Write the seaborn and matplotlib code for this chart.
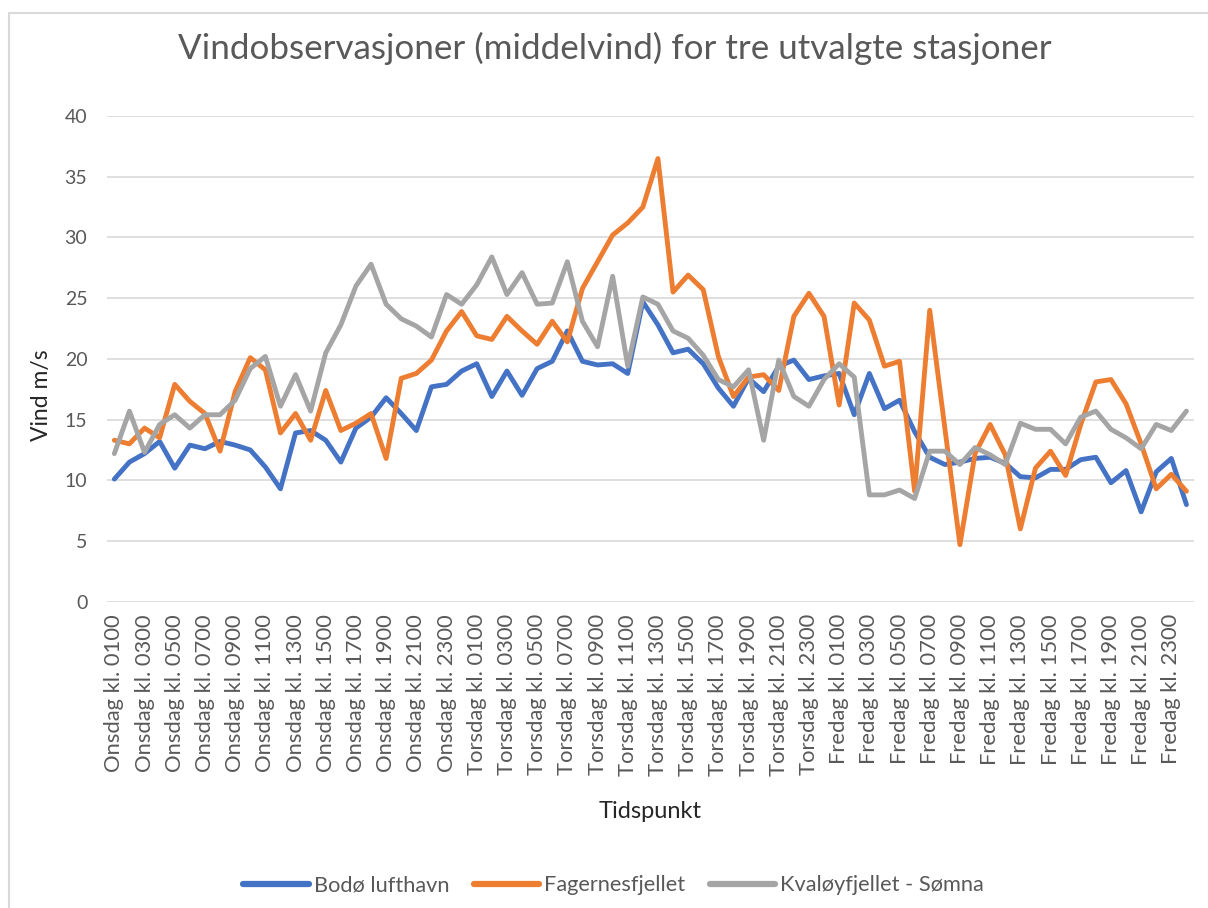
import numpy as np
import pandas as pd
import matplotlib
matplotlib.use("Agg")
import matplotlib.pyplot as plt
from matplotlib.lines import Line2D
import seaborn as sns

# stations and colours (Excel default palette)
stations = ["Bodø lufthavn", "Fagernesfjellet", "Kvaløyfjellet - Sømna"]
colors = ["#4472C4", "#ED7D31", "#A5A5A5"]

days = ["Onsdag", "Torsdag", "Fredag"]
hours = list(range(1, 25))

# middelvind m/s, one value per hour (Onsdag kl. 0100 .. Fredag kl. 2400)
bodo = [10.1, 11.5, 12.2, 13.2, 11.0, 12.9, 12.6, 13.2, 12.9, 12.5, 11.1, 9.3,
        13.9, 14.1, 13.3, 11.5, 14.3, 15.2, 16.8, 15.5, 14.1, 17.7, 17.9, 19.0,
        19.6, 16.9, 19.0, 17.0, 19.2, 19.8, 22.3, 19.8, 19.5, 19.6, 18.8, 24.7,
        22.8, 20.5, 20.8, 19.6, 17.6, 16.1, 18.4, 17.3, 19.4, 19.9, 18.3, 18.6,
        18.8, 15.4, 18.8, 15.9, 16.6, 14.0, 11.9, 11.3, 11.5, 11.8, 11.9, 11.4,
        10.3, 10.2, 10.9, 10.9, 11.7, 11.9, 9.8, 10.8, 7.4, 10.7, 11.8, 8.0]
fagernes = [13.3, 13.0, 14.3, 13.5, 17.9, 16.5, 15.5, 12.4, 17.3, 20.1, 19.1, 13.9,
            15.5, 13.3, 17.4, 14.1, 14.7, 15.5, 11.8, 18.4, 18.8, 19.9, 22.3, 23.9,
            21.9, 21.6, 23.5, 22.3, 21.2, 23.1, 21.4, 25.8, 28.0, 30.2, 31.2, 32.5,
            36.5, 25.5, 26.9, 25.7, 20.2, 16.9, 18.5, 18.7, 17.4, 23.5, 25.4, 23.5,
            16.2, 24.6, 23.2, 19.4, 19.8, 9.1, 24.0, 14.3, 4.7, 12.2, 14.6, 12.1,
            6.0, 11.0, 12.4, 10.4, 14.6, 18.1, 18.3, 16.3, 13.0, 9.3, 10.5, 9.1]
kvaloy = [12.2, 15.7, 12.3, 14.6, 15.4, 14.3, 15.4, 15.4, 16.6, 19.2, 20.2, 16.1,
          18.7, 15.7, 20.5, 22.8, 26.0, 27.8, 24.5, 23.3, 22.7, 21.8, 25.3, 24.5,
          26.1, 28.4, 25.3, 27.1, 24.5, 24.6, 28.0, 23.1, 21.0, 26.8, 19.4, 25.1,
          24.5, 22.3, 21.7, 20.3, 18.3, 17.7, 19.1, 13.3, 19.9, 16.9, 16.1, 18.3,
          19.6, 18.5, 8.8, 8.8, 9.2, 8.5, 12.4, 12.4, 11.3, 12.7, 12.1, 11.3,
          14.7, 14.2, 14.2, 13.0, 15.2, 15.7, 14.2, 13.5, 12.6, 14.6, 14.1, 15.7]

time_labels = [f"{d} kl. {h:02d}00" for d in days for h in hours]

df = pd.DataFrame({"Tidspunkt": time_labels, stations[0]: bodo,
                   stations[1]: fagernes, stations[2]: kvaloy})
df["pos"] = np.arange(len(df))
long = df.melt(id_vars=["Tidspunkt", "pos"], value_vars=stations,
               var_name="Stasjon", value_name="Vind")

sns.set_style("white")
plt.rcParams["font.family"] = ["Lato", "DejaVu Sans"]

fig = plt.figure(figsize=(12.08, 9.08), dpi=100)
ax = fig.add_axes([0.0884, 0.3373, 0.9000, 0.5349])

sns.lineplot(data=long, x="pos", y="Vind", hue="Stasjon", hue_order=stations,
             palette=dict(zip(stations, colors)), linewidth=3.5, ax=ax,
             legend=False)

ax.set_xlim(-0.5, len(df) - 0.5)
ax.set_ylim(0, 40)
ax.set_yticks(range(0, 41, 5))
ax.set_xticks(df["pos"][::2])
ax.set_xticklabels(df["Tidspunkt"][::2], rotation=90, fontsize=15.8, color="#595959")
ax.tick_params(axis="y", labelsize=14, labelcolor="#595959", length=0, pad=14)
ax.tick_params(axis="x", length=0, pad=9)
ax.grid(axis="y", color="#D9D9D9", linewidth=1.2)
ax.grid(axis="x", visible=False)
for s in ax.spines.values():
    s.set_visible(False)

ax.set_xlabel("Tidspunkt", fontsize=17, color="#262626", labelpad=18)
ax.set_ylabel("Vind m/s", fontsize=16.5, color="#262626")
ax.yaxis.set_label_coords(-0.050, 0.426)

fig.text(0.509, 0.947, "Vindobservasjoner (middelvind) for tre utvalgte stasjoner",
         ha="center", va="center", fontsize=25.2, color="#595959")

handles = [Line2D([0], [0], color=c, lw=4.5, solid_capstyle="round") for c in colors]
fig.legend(handles, stations, loc="center", bbox_to_anchor=(0.508, 0.025), ncol=3,
           frameon=False, fontsize=15.7, labelcolor="#595959", handlelength=3.0,
           handletextpad=0.25, columnspacing=1.1)

# chart area border (top and left edges only are visible)
fig.add_artist(Line2D([9 / 1208, 1], [1 - 13 / 908] * 2, transform=fig.transFigure,
                      color="#D9D9D9", lw=1.5))
fig.add_artist(Line2D([9 / 1208] * 2, [0, 1 - 13 / 908], transform=fig.transFigure,
                      color="#D9D9D9", lw=1.5))

fig.savefig("out.png", dpi=100)
